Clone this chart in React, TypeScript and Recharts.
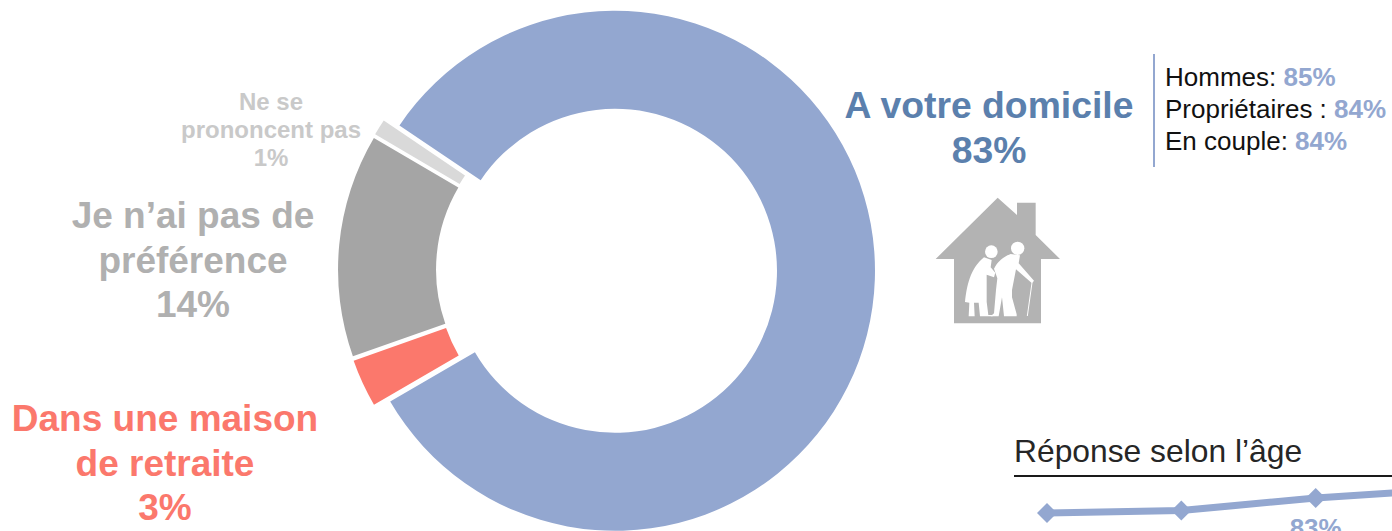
import React from "react";
import { PieChart, Pie, Cell, Sector, LineChart, Line, XAxis, YAxis } from "recharts";

const sliceNames = ["A votre domicile", "Dans une maison de retraite", "Je n'ai pas de préférence", "Ne se prononcent pas"];
const sliceValues = [83, 3, 14, 1];
const sliceColors = ["#93a7d0", "#fb786c", "#a5a5a5", "#d9d9d9"];

const ageGroups = ["Groupe 1", "Groupe 2", "Groupe 3", "Groupe 4"];
const ageValues = [80.5, 80.9, 83, 84.5];
const ageLabels = ["", "", "83%", ""];

const pieData = sliceNames.map((name, i) => ({ name, value: sliceValues[i] }));
const lineData = ageGroups.map((name, i) => ({ name, value: ageValues[i], label: ageLabels[i] }));

const FONT = '"Liberation Sans", Arial, sans-serif';

const Block = ({ x, y, size, color, lines, lh }: any) => (
  <div
    style={{
      position: "absolute",
      left: x - 200,
      top: y,
      width: 400,
      textAlign: "center",
      fontFamily: FONT,
      fontWeight: "bold",
      fontSize: size,
      lineHeight: lh + "px",
      color,
    }}
  >
    {lines.map((l: string) => (
      <div key={l}>{l}</div>
    ))}
  </div>
);

// every slice is pulled away from the centre along its middle angle
const EXPLODE = 8.5;
const ExplodedSlice = (props: any) => {
  const { cx, cy, startAngle, endAngle } = props;
  const mid = (((startAngle + endAngle) / 2) * Math.PI) / 180;
  return <Sector {...props} cx={cx + EXPLODE * Math.cos(mid)} cy={cy - EXPLODE * Math.sin(mid)} stroke="none" />;
};

const Diamond = (props: any) => {
  const { cx, cy, index } = props;
  const r = 10;
  return <path key={index} d={`M${cx - r},${cy}L${cx},${cy - r}L${cx + r},${cy}L${cx},${cy + r}Z`} fill="#93a7d0" />;
};

const AgeLabel = (props: any) => {
  const { x, y, index } = props;
  if (!ageLabels[index]) return null;
  return (
    <text x={x} y={y + 39} textAnchor="middle" fontFamily={FONT} fontWeight="bold" fontSize={26} fill="#93a7d0">
      {ageLabels[index]}
    </text>
  );
};

const House = () => (
  <svg style={{ position: "absolute", left: 920, top: 180 }} width={160} height={160} viewBox="0 0 480 480">
    <path
      d="M233,53L291,105L291,68L347,68L347,165L420,237L363,237L363,430L102,430L102,237L47,237Z"
      fill="#b3b3b3"
    />
    <g fill="#fff">
      <circle cx={214} cy={215} r={19} />
      <circle cx={293} cy={205} r={20} />
      <path d="M192,232L215,240L212,262L226,278L222,292L200,284L200,365L205,405L218,405L218,409L180,409L176,368L162,368L164,409L146,409L148,368L135,366C140,320 150,265 192,232Z" />
      <path d="M272,222L300,226L296,250L342,302L336,310L288,268L276,330L276,352L290,403L290,409L252,409L246,352L236,409L212,409L222,400L228,330L232,295L222,266C232,245 250,230 272,222Z" />
    </g>
    <path d="M336,308L322,408" stroke="#fff" strokeWidth={3} fill="none" />
  </svg>
);

export default function App() {
  return (
    <div
      style={{
        position: "fixed",
        left: 0,
        top: 0,
        width: 1392,
        height: 531,
        overflow: "hidden",
        background: "#fff",
        fontFamily: FONT,
      }}
    >
      <div style={{ position: "absolute", left: 0, top: 0 }}>
        <PieChart width={1392} height={560} margin={{ top: 0, right: 0, bottom: 0, left: 0 }}>
          <Pie
            data={pieData}
            dataKey="value"
            nameKey="name"
            cx={606.5}
            cy={270.5}
            innerRadius={162}
            outerRadius={260}
            startAngle={146}
            endAngle={-214}
            shape={<ExplodedSlice />}
            isAnimationActive={false}
          >
            {sliceColors.map((c) => (
              <Cell key={c} fill={c} />
            ))}
          </Pie>
        </PieChart>
      </div>

      <Block x={989} y={83} size={37.3} lh={45} color="#5b80ad" lines={["A votre domicile", "83%"]} />
      <Block x={193} y={194} size={37} lh={44.5} color="#b0b0b0" lines={["Je n’ai pas de", "préférence", "14%"]} />
      <Block x={165} y={397} size={37} lh={44.5} color="#fb786c" lines={["Dans une maison", "de retraite", "3%"]} />
      <Block x={271} y={88} size={24} lh={28} color="#c9c9c9" lines={["Ne se", "prononcent pas", "1%"]} />

      <div style={{ position: "absolute", left: 1153, top: 54, width: 2, height: 113, background: "#93a7d0" }} />
      <div style={{ position: "absolute", left: 1165, top: 61, fontSize: 26, lineHeight: "32px", color: "#111", whiteSpace: "nowrap" }}>
        <div>
          Hommes: <b style={{ color: "#93a7d0" }}>85%</b>
        </div>
        <div>
          Propriétaires : <b style={{ color: "#93a7d0" }}>84%</b>
        </div>
        <div>
          En couple: <b style={{ color: "#93a7d0" }}>84%</b>
        </div>
      </div>

      <House />

      <div style={{ position: "absolute", left: 1014, top: 433, fontSize: 31.8, lineHeight: "36px", color: "#262626", whiteSpace: "nowrap" }}>
        Réponse selon l’âge
      </div>
      <div style={{ position: "absolute", left: 1014, top: 475, width: 378, height: 2, background: "#1a1a1a" }} />

      <div style={{ position: "absolute", left: 1027, top: 456 }}>
        <LineChart width={443} height={90} data={lineData} margin={{ top: 0, right: 20, bottom: 0, left: 20 }}>
          <XAxis dataKey="name" hide />
          <YAxis hide domain={[75, 90]} />
          <Line
            dataKey="value"
            stroke="#93a7d0"
            strokeWidth={7}
            dot={<Diamond />}
            activeDot={false}
            label={<AgeLabel />}
            isAnimationActive={false}
          />
        </LineChart>
      </div>
    </div>
  );
}
